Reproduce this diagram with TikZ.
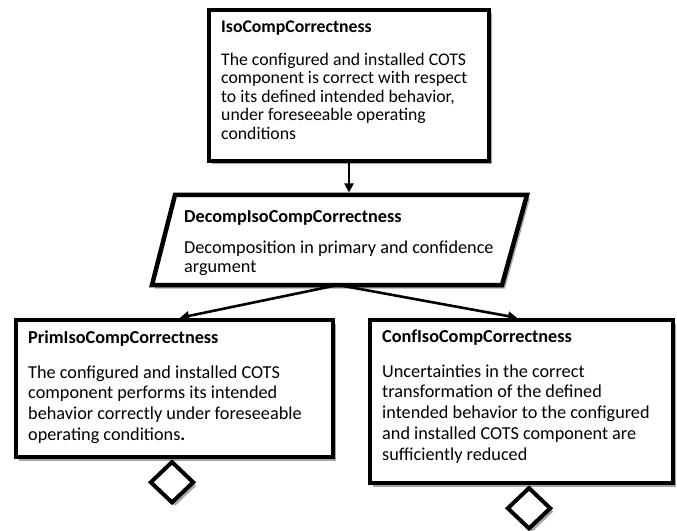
\documentclass[tikz,border=0pt]{standalone}
\usepackage{fontspec}
\setmainfont{Carlito}
\usetikzlibrary{arrows.meta,shapes.geometric,shadows}
\newcommand{\fbig}{\fontsize{17.8}{18.7}\selectfont}
\newcommand{\fnorm}{\fontsize{18.3}{21}\selectfont}
\newcommand{\fpar}{\fontsize{18.3}{20}\selectfont}
\tikzset{
  gshadow/.style={drop shadow={shadow xshift=3bp,shadow yshift=-3.5bp,opacity=0.35,fill=black}},
  gbox/.style={draw, rectangle, line width=4.5bp, fill=white, inner sep=0pt, gshadow},
  gtext/.style={anchor=north west, inner sep=0pt, align=left, text=black},
  conn/.style={line width=2.6bp, -{Triangle[length=9bp,width=9bp]}},
  undev/.style={draw, diamond, line width=4bp, fill=white, inner sep=0pt, minimum width=44bp, minimum height=42bp, gshadow}
}
\begin{document}
\begin{tikzpicture}[x=1bp,y=-1bp]
\useasboundingbox (0,0) rectangle (677,531);
% top goal
\node[gbox, minimum width=280bp, minimum height=151bp] (top) at (349,85.5) {};
\node[gtext, font=\fbig] (toptxt) at (221,18.9) {\strut\textbf{IsoCompCorrectness}\\[14.3bp]
The configured and installed COTS\\
component is correct with respect\\
to its defined intended behavior,\\
under foreseeable operating\\
conditions};
% strategy (parallelogram)
\coordinate (dtl) at (175,195);
\coordinate (dtr) at (527,195);
\coordinate (dbr) at (502,285);
\coordinate (dbl) at (152,285);
\draw[line width=4.5bp, fill=white, line join=miter, gshadow] (dtl) -- (dtr) -- (dbr) -- (dbl) -- cycle;
\node[gtext, font=\fpar] (dtxt) at (184,208) {\strut\textbf{DecompIsoCompCorrectness}\\[11bp]
Decomposition in primary and confidence\\
argument};
\coordinate (dtop) at (349,192.5);
\coordinate (dbot) at (338,285);
% sub goals
\node[gbox, minimum width=317bp, minimum height=137bp] (prim) at (174.5,388.5) {};
\node[gtext, font=\fnorm] (primtxt) at (28,328.3) {\strut\textbf{PrimIsoCompCorrectness}\\[14bp]
The configured and installed COTS\\
component performs its intended\\
behavior correctly under foreseeable\\
operating conditions\textbf{.}};
\node[gbox, minimum width=303bp, minimum height=163bp] (conf) at (521.5,401.5) {};
\node[gtext, font=\fnorm] (conftxt) at (382,327.3) {\strut\textbf{ConfIsoCompCorrectness}\\[14bp]
Uncertainties in the correct\\
transformation of the defined\\
intended behavior to the configured\\
and installed COTS component are\\
sufficiently reduced};
% connectors
\draw[conn] (top.south) -- (dtop);
\draw[conn] (dbot) -- ([xshift=5.5bp]prim.north);
\draw[conn] (dbot) -- ([xshift=-4.5bp]conf.north);
% undeveloped markers
\node[undev, anchor=north] (u1) at ([xshift=-2.5bp]prim.south) {};
\node[undev, anchor=north] (u2) at ([xshift=7.5bp]conf.south) {};
\end{tikzpicture}
\end{document}
